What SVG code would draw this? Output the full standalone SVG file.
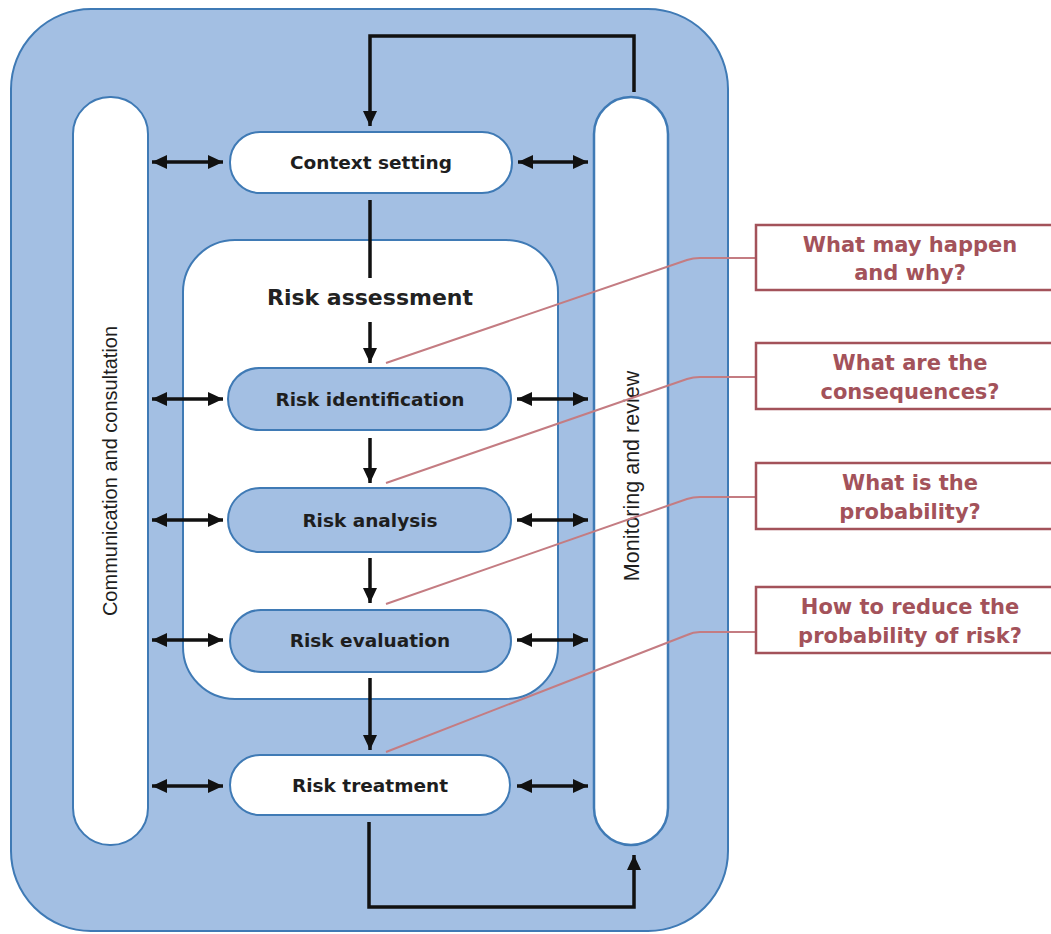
<svg xmlns="http://www.w3.org/2000/svg" width="1051" height="934" viewBox="0 0 1051 934">
<style>
.blue{fill:#a3bfe3;stroke:#3f7ab5;stroke-width:2}
.white{fill:#ffffff;stroke:#3f7ab5;stroke-width:2}
.lbl{font-family:"DejaVu Sans",sans-serif;font-weight:bold;font-size:18.5px;fill:#1e1e1e;text-anchor:middle}
.side{font-family:"Liberation Sans",Arial,sans-serif;font-size:20px;fill:#1e1e1e;text-anchor:middle}
.q{font-family:"DejaVu Sans",sans-serif;font-weight:bold;font-size:21px;fill:#a3525a;text-anchor:middle}
.qbox{fill:#ffffff;stroke:#a3525a;stroke-width:2.5}
.call{fill:none;stroke:#c47c82;stroke-width:2}
.arr{fill:none;stroke:#111;stroke-width:3.5}
</style>
<defs>
<marker id="ah" markerUnits="userSpaceOnUse" markerWidth="18" markerHeight="16" refX="15" refY="7" orient="auto-start-reverse">
<path d="M0,0 L15,7 L0,14 z" fill="#111"/>
</marker>
</defs>
<g id="background">
<rect x="11" y="9" width="717" height="922" rx="80" ry="80" class="blue"/>
</g>
<g id="communication">
<rect x="73" y="97" width="75" height="748" rx="37" ry="37" class="white"/>
<text class="side" transform="translate(117,471) rotate(-90)">Communication and consultation</text>
</g>
<g id="monitoring">
<rect x="594" y="97" width="74" height="748" rx="37" ry="37" class="white" style="stroke-width:2.5"/>
<text class="side" style="font-size:21.5px" transform="translate(639,476) rotate(-90)">Monitoring and review</text>
</g>
<g id="risk-assessment">
<rect x="183" y="240" width="375" height="459" rx="52" ry="52" class="white"/>
<text x="370" y="305" style="font-family:'DejaVu Sans',sans-serif;font-weight:bold;font-size:22px;fill:#222;text-anchor:middle">Risk assessment</text>
</g>
<g id="context-setting">
<rect x="230" y="132" width="282" height="61" rx="30" ry="30" class="white"/>
<text x="371" y="169" class="lbl">Context setting</text>
</g>
<g id="risk-identification">
<rect x="228" y="368" width="283" height="62" rx="31" ry="31" class="blue"/>
<text x="370" y="406" class="lbl">Risk identification</text>
</g>
<g id="risk-analysis">
<rect x="228" y="488" width="283" height="64" rx="32" ry="32" class="blue"/>
<text x="370" y="527" class="lbl">Risk analysis</text>
</g>
<g id="risk-evaluation">
<rect x="230" y="610" width="281" height="62" rx="31" ry="31" class="blue"/>
<text x="370" y="647" class="lbl">Risk evaluation</text>
</g>
<g id="risk-treatment">
<rect x="230" y="755" width="280" height="60" rx="30" ry="30" class="white"/>
<text x="370" y="792" class="lbl">Risk treatment</text>
</g>
<g id="connectors">
<path class="arr" d="M634,92 V36 H370 V126" marker-end="url(#ah)"/>
<path class="arr" d="M369,822 V907 H634 V855" marker-end="url(#ah)"/>
<line class="arr" x1="370" y1="200" x2="370" y2="278"/>
<line class="arr" x1="370" y1="322" x2="370" y2="363" marker-end="url(#ah)"/>
<line class="arr" x1="370" y1="438" x2="370" y2="483" marker-end="url(#ah)"/>
<line class="arr" x1="370" y1="558" x2="370" y2="603" marker-end="url(#ah)"/>
<line class="arr" x1="370" y1="678" x2="370" y2="750" marker-end="url(#ah)"/>
<g style="stroke-width:3">
<line class="arr" x1="152" y1="162" x2="223" y2="162" marker-start="url(#ah)" marker-end="url(#ah)"/>
<line class="arr" x1="518" y1="162" x2="588" y2="162" marker-start="url(#ah)" marker-end="url(#ah)"/>
<line class="arr" x1="152" y1="399" x2="223" y2="399" marker-start="url(#ah)" marker-end="url(#ah)"/>
<line class="arr" x1="517" y1="399" x2="588" y2="399" marker-start="url(#ah)" marker-end="url(#ah)"/>
<line class="arr" x1="152" y1="520" x2="223" y2="520" marker-start="url(#ah)" marker-end="url(#ah)"/>
<line class="arr" x1="517" y1="520" x2="588" y2="520" marker-start="url(#ah)" marker-end="url(#ah)"/>
<line class="arr" x1="152" y1="640" x2="223" y2="640" marker-start="url(#ah)" marker-end="url(#ah)"/>
<line class="arr" x1="517" y1="640" x2="588" y2="640" marker-start="url(#ah)" marker-end="url(#ah)"/>
<line class="arr" x1="152" y1="786" x2="223" y2="786" marker-start="url(#ah)" marker-end="url(#ah)"/>
<line class="arr" x1="517" y1="786" x2="588" y2="786" marker-start="url(#ah)" marker-end="url(#ah)"/>
</g>
<path class="call" d="M756,258 H700 Q693,258 687,260 L386,363"/>
<path class="call" d="M756,377 H700 Q693,377 687,379 L386,483"/>
<path class="call" d="M756,497 H700 Q693,497 687,499 L386,604"/>
<path class="call" d="M756,632 H700 Q693,632 687,635 L386,752"/>
</g>
<g id="q1">
<rect x="756" y="225" width="306" height="65" class="qbox"/>
<text x="910" y="252" class="q">What may happen</text>
<text x="910" y="280" class="q">and why?</text>
</g>
<g id="q2">
<rect x="756" y="343" width="306" height="66" class="qbox"/>
<text x="910" y="370" class="q">What are the</text>
<text x="910" y="399" class="q">consequences?</text>
</g>
<g id="q3">
<rect x="756" y="463" width="306" height="66" class="qbox"/>
<text x="910" y="490" class="q">What is the</text>
<text x="910" y="519" class="q">probability?</text>
</g>
<g id="q4">
<rect x="756" y="587" width="306" height="66" class="qbox"/>
<text x="910" y="614" class="q">How to reduce the</text>
<text x="910" y="643" class="q">probability of risk?</text>
</g>
</svg>
